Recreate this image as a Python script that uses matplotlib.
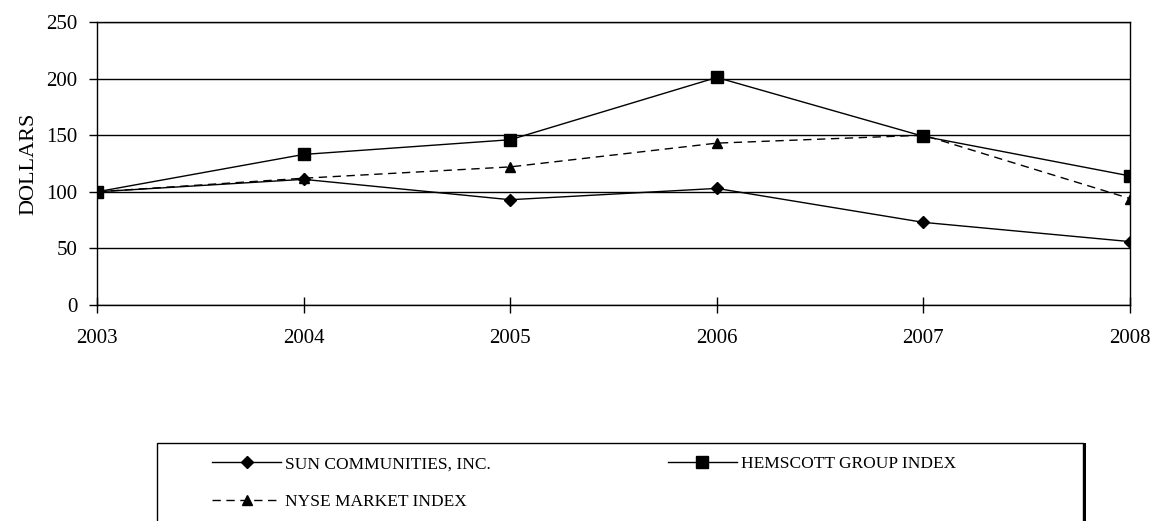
import matplotlib
matplotlib.use('Agg')
import matplotlib.pyplot as plt
from matplotlib.patches import Rectangle

plt.rcParams['font.family'] = ['Liberation Serif', 'DejaVu Serif']

years = [2003, 2004, 2005, 2006, 2007, 2008]
sun = [100, 111, 93, 103, 73, 56]
hemscott = [100, 133, 146, 201, 149, 114]
nyse = [100, 112, 122, 143, 150, 94]

fig = plt.figure(figsize=(11.51, 5.21), dpi=100)
ax = fig.add_axes([97/1151, 1-305/521, (1130-97)/1151, (305-22)/521])

l1, = ax.plot(years, sun, color='black', lw=1, marker='D', ms=6, label='SUN COMMUNITIES, INC.')
l2, = ax.plot(years, hemscott, color='black', lw=1, marker='s', ms=8, label='HEMSCOTT GROUP INDEX')
l3, = ax.plot(years, nyse, color='black', lw=1, ls=(0, (6, 4)), marker='^', ms=7, label='NYSE MARKET INDEX')

ax.set_xlim(2003, 2008)
ax.set_ylim(0, 250)
ax.set_xticks(years)
ax.set_yticks(range(0, 251, 50))
ax.yaxis.grid(True, color='black', lw=1)
ax.set_axisbelow(True)
for s in ax.spines.values():
    s.set_color('black')
    s.set_linewidth(1)
ax.tick_params(axis='x', direction='inout', length=11, width=1, labelsize=15, pad=12)
ax.tick_params(axis='y', direction='out', length=6, width=1, labelsize=15, pad=8)
ax.set_ylabel('DOLLARS', fontsize=16, labelpad=6)

# legend box with shadow
fig.patches.append(Rectangle((160/1151, -0.05), 926/1151, 0.05 + 78/521, zorder=-2,
                             transform=fig.transFigure, facecolor='black', edgecolor='none'))
fig.patches.append(Rectangle((157/1151, -0.05), 926/1151, 0.05 + 78/521, zorder=-1,
                             transform=fig.transFigure, facecolor='white', edgecolor='black', lw=1))

# column-wise fill: sun, nyse in col 1, hemscott in col 2
ax.legend([l1, l3, l2], [l1.get_label(), l3.get_label(), l2.get_label()],
          loc='upper left', bbox_to_anchor=(212/1151, 1-456/521), bbox_transform=fig.transFigure,
          ncol=2, frameon=False, fontsize=12.5, borderpad=0, borderaxespad=0,
          handlelength=4.0, handletextpad=0.2, labelspacing=1.25, columnspacing=10.2)

fig.savefig('out.png', dpi=100)
